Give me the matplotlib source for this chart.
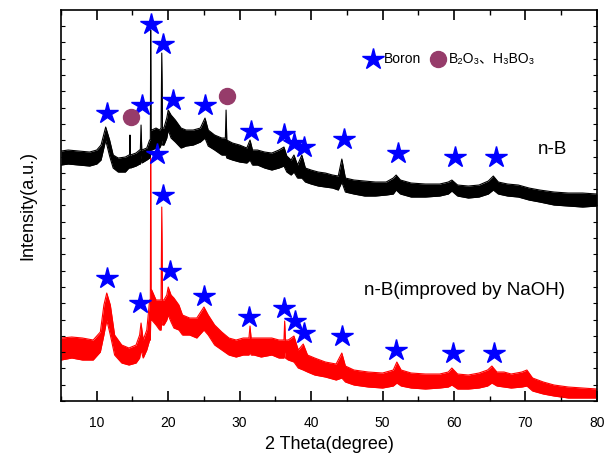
import matplotlib
matplotlib.use('Agg')
import matplotlib.pyplot as plt
from matplotlib.ticker import MultipleLocator, NullFormatter

plt.rcParams['font.family'] = ['Liberation Sans', 'DejaVu Sans', 'Noto Sans CJK SC']

# XRD pattern of n-B: 2theta and the upper / lower edge of the noisy trace
nb_theta = [5.0, 6.0, 7.5, 9.0, 10.0, 10.6, 11.25, 11.8, 12.3, 13.0, 14.0, 14.5, 14.6, 14.65, 14.7,
            15.5, 16.0, 16.1, 16.2, 16.3, 17.0, 17.4, 17.5, 17.55, 17.6, 17.7, 18.3, 18.8, 19.0, 19.1,
            19.2, 19.4, 19.8, 20.0, 20.4, 21.0, 21.8, 22.5, 23.5, 24.5, 25.15, 25.6, 26.5, 27.5, 28.0,
            28.1, 28.2, 29.0, 30.0, 31.0, 31.45, 31.8, 32.5, 33.5, 34.5, 35.5, 36.2, 36.6, 37.2, 37.6,
            38.1, 38.7, 39.2, 40.0, 41.0, 42.0, 43.0, 43.8, 44.3, 44.8, 46.0, 47.5, 49.0, 50.5, 51.5,
            51.9, 52.5, 54.0, 56.0, 58.0, 59.2, 59.7, 60.5, 62.0, 63.5, 64.8, 65.5, 66.2, 67.5, 69.0,
            70.5, 72.0, 74.0, 76.0, 78.0, 80.0]
nb_upper = [250, 251, 250, 249, 251, 256, 274, 261, 246, 243, 244, 246, 246, 266, 246,
            248, 251, 251, 276, 251, 253, 261, 261, 371, 271, 271, 273, 271, 273, 348,
            273, 273, 283, 291, 286, 281, 273, 271, 271, 273, 283, 271, 266, 263, 263,
            291, 261, 258, 256, 253, 261, 251, 251, 249, 248, 251, 254, 245, 241, 246,
            236, 246, 233, 231, 229, 228, 226, 225, 242, 223, 221, 220, 219, 219, 223,
            226, 221, 218, 217, 217, 219, 221, 216, 215, 216, 220, 225, 219, 217, 216,
            213, 211, 209, 208, 208, 207]
nb_lower = [236, 237, 236, 235, 237, 241, 261, 245, 233, 229, 229, 233, 233, 241, 233,
            235, 237, 237, 246, 238, 241, 243, 243, 251, 251, 251, 253, 253, 256, 261,
            256, 256, 263, 271, 263, 259, 253, 255, 256, 259, 263, 255, 251, 246, 246,
            246, 243, 241, 239, 238, 241, 236, 236, 233, 231, 233, 235, 229, 226, 229,
            223, 223, 219, 217, 215, 214, 213, 211, 219, 209, 207, 205, 205, 206, 207,
            211, 207, 204, 204, 205, 207, 210, 205, 203, 204, 207, 211, 207, 205, 204,
            201, 199, 196, 195, 194, 195]

# XRD pattern of n-B after NaOH treatment
nbn_theta = [5.0, 6.5, 8.0, 9.5, 10.5, 11.0, 11.4, 11.9, 12.5, 13.5, 14.5, 15.5, 16.0, 16.2, 16.5,
             17.0, 17.4, 17.5, 17.55, 17.6, 17.7, 18.3, 18.8, 19.0, 19.1, 19.2, 19.4, 19.8, 20.0,
             20.4, 20.8, 21.5, 22.0, 23.0, 24.0, 25.0, 25.6, 26.5, 27.5, 28.5, 29.5, 30.5, 31.3,
             31.45, 31.6, 32.0, 33.0, 34.5, 35.5, 36.2, 36.3, 36.4, 36.8, 37.6, 38.2, 38.9, 39.5,
             40.5, 42.0, 43.5, 44.3, 44.8, 46.0, 48.0, 50.0, 51.5, 52.0, 52.6, 54.0, 56.0, 58.0,
             59.2, 59.7, 60.5, 62.0, 63.5, 64.7, 65.3, 66.0, 67.0, 68.0, 69.5, 70.2, 71.0, 72.5,
             74.0, 76.0, 78.0, 80.0]
nbn_upper = [63, 64, 63, 61, 69, 96, 108, 96, 66, 56, 53, 56, 66, 78, 61,
             71, 101, 101, 243, 111, 111, 101, 101, 101, 194, 101, 101, 106, 114,
             106, 103, 96, 86, 83, 83, 94, 86, 76, 69, 63, 61, 63, 63,
             75, 63, 63, 63, 63, 61, 61, 80, 61, 61, 65, 51, 57, 46,
             43, 39, 37, 48, 35, 31, 29, 28, 31, 39, 31, 28, 27, 27,
             29, 33, 27, 26, 28, 31, 35, 29, 29, 27, 29, 31, 23, 19,
             16, 14, 13, 12]
nbn_lower = [41, 43, 41, 41, 49, 66, 81, 66, 46, 38, 36, 38, 43, 51, 43,
             51, 61, 61, 81, 81, 81, 76, 71, 71, 81, 76, 76, 81, 86,
             79, 73, 71, 66, 66, 63, 71, 66, 56, 51, 46, 44, 46, 46,
             49, 46, 46, 44, 46, 43, 43, 49, 43, 41, 39, 33, 31, 29,
             26, 24, 21, 23, 19, 16, 14, 13, 15, 18, 15, 13, 12, 13,
             14, 16, 12, 12, 13, 15, 18, 15, 14, 13, 14, 15, 10, 7,
             5, 3, 3, 3]

# Boron reflections marked above each pattern
nb_star_theta = [11.44, 16.33, 17.59, 19.27, 20.67, 25.15, 31.58, 36.2, 37.6, 39.0, 44.6, 52.15, 60.1, 65.9]
nb_star_y = [288, 296, 377, 357, 301, 296, 270, 267, 258, 254, 262, 248, 244, 244]
nb_oxide_theta = [14.79, 28.23]
nb_oxide_y = [284, 305]
nbn_star_theta = [11.44, 16.05, 18.43, 19.27, 20.25, 25.0, 31.3, 36.2, 37.74, 39.0, 44.3, 51.87, 59.85, 65.6]
nbn_star_y = [123, 98, 247, 206, 130, 105, 84, 93, 80, 68, 65, 51, 48, 48]

star_color = '#0000ff'
oxide_color = '#963c6a'

fig = plt.figure(figsize=(6.06, 4.57), dpi=100)
ax = fig.add_axes([0.1007, 0.1225, 0.8843, 0.8555])

ax.fill_between(nb_theta, nb_lower, nb_upper, color='black', lw=0)
ax.plot(nb_theta, nb_upper, color='black', lw=0.8)
ax.plot(nb_theta, nb_lower, color='black', lw=0.8)

ax.fill_between(nbn_theta, nbn_lower, nbn_upper, color='red', lw=0)
ax.plot(nbn_theta, nbn_upper, color='red', lw=0.8)
ax.plot(nbn_theta, nbn_lower, color='red', lw=0.8)

ax.plot(nb_star_theta, nb_star_y, ls='none', marker='*', ms=16, color=star_color, mec=star_color)
ax.plot(nb_oxide_theta, nb_oxide_y, ls='none', marker='o', ms=11.5, color=oxide_color, mec=oxide_color)
ax.plot(nbn_star_theta, nbn_star_y, ls='none', marker='*', ms=16, color=star_color, mec=star_color)

# legend drawn by hand inside the plot
ax.plot([48.65], [342], ls='none', marker='*', ms=16, color=star_color)
ax.text(50.2, 342, 'Boron', fontsize=10, va='center', ha='left')
ax.plot([57.75], [342], ls='none', marker='o', ms=11.5, color=oxide_color)
ax.text(59.3, 342, 'B₂O₃、H₃BO₃', fontsize=10, va='center', ha='left')

ax.text(71.75, 252, 'n-B', fontsize=13.5, va='center', ha='left')
ax.text(47.4, 111, 'n-B(improved by NaOH)', fontsize=13.5, va='center', ha='left')

ax.set_xlim(5, 80)
ax.set_ylim(0, 391)
ax.xaxis.set_major_locator(MultipleLocator(10))
ax.xaxis.set_minor_locator(MultipleLocator(5))
ax.yaxis.set_major_locator(MultipleLocator(16.3))
ax.yaxis.set_major_formatter(NullFormatter())
ax.tick_params(axis='x', which='major', direction='in', length=7, width=1.2, labelsize=10, pad=11)
ax.tick_params(axis='x', which='minor', direction='in', length=3.5, width=1.0)
ax.tick_params(axis='y', which='major', direction='in', length=3, width=0.8, right=True)
ax.tick_params(axis='x', which='both', top=True)
for side in ax.spines.values():
    side.set_linewidth(1.2)

ax.set_xlabel('2 Theta(degree)', fontsize=13, labelpad=4)
ax.set_ylabel('Intensity(a.u.)', fontsize=13, labelpad=14)

fig.savefig('out.png', dpi=100)
